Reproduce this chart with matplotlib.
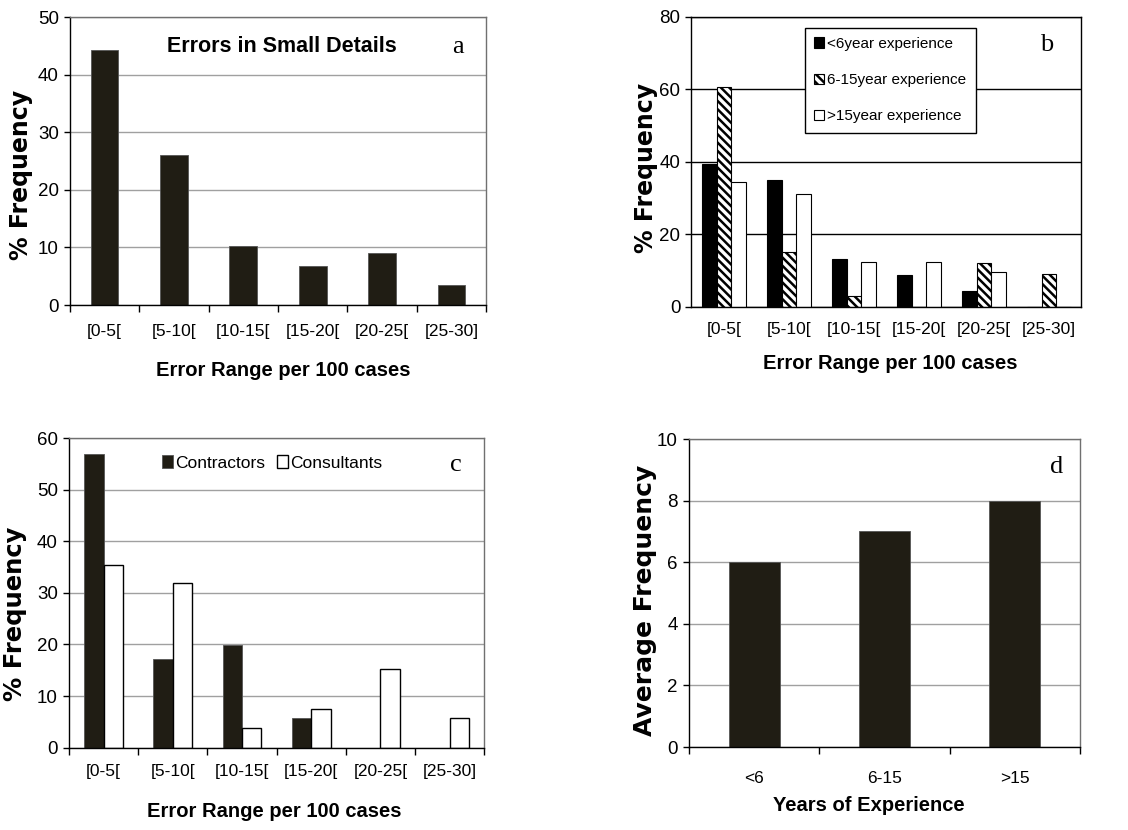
import matplotlib
matplotlib.use("Agg")
import matplotlib.pyplot as plt
import numpy as np

# data
ranges = ["[0-5[", "[5-10[", "[10-15[", "[15-20[", "[20-25[", "[25-30]"]
small_details = [44.3, 26.0, 10.2, 6.8, 9.1, 3.4]

exp_lt6 = [39.4, 35.0, 13.2, 8.7, 4.4, 0.0]
exp_6_15 = [60.5, 15.0, 2.9, 0.0, 12.0, 9.1]
exp_gt15 = [34.4, 31.2, 12.4, 12.4, 9.6, 0.0]
exp_labels = ["<6year experience", "6-15year experience", ">15year experience"]

contractors = [56.9, 17.2, 19.8, 5.7, 0.0, 0.0]
consultants = [35.4, 32.0, 3.8, 7.5, 15.3, 5.7]

years = ["<6", "6-15", ">15"]
avg_freq = [6, 7, 8]

SANS = "Liberation Sans"
BOLDY = "DejaVu Sans"
SERIF = "Liberation Serif"
DARK = "#201d14"

plt.rcParams["hatch.linewidth"] = 1.8

fig = plt.figure(figsize=(11.28, 8.30), dpi=100)


def style(ax, ymax, step, pad, gridcolor="#a0a0a0", framecolor="#707070", xticks=True):
    n = len(ax.get_xticks())
    ax.set_ylim(0, ymax)
    ax.set_yticks(np.arange(0, ymax + 1, step))
    ax.set_xlim(-0.5, n - 0.5)
    ax.yaxis.grid(True, color=gridcolor, lw=1.0)
    ax.set_axisbelow(True)
    for s in ["top", "right"]:
        ax.spines[s].set_color(framecolor)
        ax.spines[s].set_linewidth(1.0)
    for s in ["left", "bottom"]:
        ax.spines[s].set_color("black")
        ax.spines[s].set_linewidth(1.0)
    ax.tick_params(axis="x", which="major", length=0, pad=pad)
    ax.tick_params(axis="y", direction="out", length=4, width=1, pad=4)
    if xticks:
        ax.set_xticks(np.arange(-0.5, n, 1.0), minor=True)
        ax.tick_params(axis="x", which="minor", direction="out", length=5, width=1)
    for lab in ax.get_xticklabels():
        lab.set_family(SANS)
        lab.set_fontsize(12.5)
    for lab in ax.get_yticklabels():
        lab.set_family(SANS)
        lab.set_fontsize(13.5)


def labels(ax, ylab, ysize, ycoords, xlab, xcoords):
    ax.set_ylabel(ylab, fontsize=ysize, fontweight="bold", family=BOLDY)
    ax.yaxis.set_label_coords(*ycoords)
    ax.set_xlabel(xlab, fontsize=14.5, fontweight="bold", family=SANS)
    ax.xaxis.set_label_coords(*xcoords)


# panel a
ax = fig.add_axes([0.062, 0.6325, 0.369, 0.347])
x = np.arange(len(ranges))
ax.bar(x, small_details, width=0.4, color=DARK, edgecolor="#555555", lw=0.6)
ax.set_xticks(x)
ax.set_xticklabels(ranges)
style(ax, 50, 10, pad=14)
labels(ax, "% Frequency", 17, (-0.089, 0.45), "Error Range per 100 cases", (0.513, -0.195))
ax.text(0.508, 0.896, "Errors in Small Details", transform=ax.transAxes, ha="center",
        va="center", fontsize=15.5, fontweight="bold", family=SANS)
ax.text(0.933, 0.896, "a", transform=ax.transAxes, ha="center", va="center",
        fontsize=19, family=SERIF)

# panel b
ax = fig.add_axes([0.613, 0.6305, 0.3457, 0.3495])
w = 0.225
ax.bar(x - w, exp_lt6, width=w, color="black", edgecolor="black", lw=0.8, label=exp_labels[0])
ax.bar(x, exp_6_15, width=w, color="white", edgecolor="black", hatch="\\" * 4, lw=0.8,
       label=exp_labels[1])
ax.bar(x + w, exp_gt15, width=w, color="white", edgecolor="black", lw=0.8, label=exp_labels[2])
ax.set_xticks(x)
ax.set_xticklabels(ranges)
style(ax, 80, 20, pad=11, gridcolor="black", framecolor="black", xticks=False)
labels(ax, "% Frequency", 17, (-0.0856, 0.48), "Error Range per 100 cases", (0.511, -0.162))
ax.text(0.911, 0.902, "b", transform=ax.transAxes, ha="center", va="center",
        fontsize=19, family=SERIF)
leg = ax.legend(loc="upper left", bbox_to_anchor=(0.29, 0.961), prop={"family": SANS, "size": 11},
                handlelength=0.7, handleheight=0.7, handletextpad=0.2, labelspacing=1.45,
                borderpad=0.6, borderaxespad=0, fancybox=False, edgecolor="black", framealpha=1)
leg.get_frame().set_linewidth(1.0)

# panel c
ax = fig.add_axes([0.0612, 0.0992, 0.368, 0.373])
w = 0.28
ax.bar(x - w / 2, contractors, width=w, color=DARK, edgecolor="#555555", lw=0.6, label="Contractors")
ax.bar(x + w / 2, consultants, width=w, color="white", edgecolor="black", lw=1.0, label="Consultants")
ax.set_xticks(x)
ax.set_xticklabels(ranges)
style(ax, 60, 10, pad=12)
labels(ax, "% Frequency", 17.5, (-0.101, 0.433), "Error Range per 100 cases", (0.494, -0.175))
ax.text(0.932, 0.913, "c", transform=ax.transAxes, ha="center", va="center",
        fontsize=19, family=SERIF)
ax.legend(loc="center", bbox_to_anchor=(0.49, 0.92), ncol=2, frameon=False,
          prop={"family": SANS, "size": 12.5}, handlelength=0.6, handleheight=0.8,
          handletextpad=0.15, columnspacing=0.7)

# panel d
ax = fig.add_axes([0.6108, 0.1, 0.3466, 0.371])
xd = np.arange(len(years))
ax.bar(xd, avg_freq, width=0.39, color=DARK, edgecolor="#555555", lw=0.6)
ax.set_xticks(xd)
ax.set_xticklabels(years)
style(ax, 10, 2, pad=17)
labels(ax, "Average Frequency", 18, (-0.0826, 0.477), "Years of Experience", (0.46, -0.158))
ax.text(0.94, 0.91, "d", transform=ax.transAxes, ha="center", va="center",
        fontsize=19, family=SERIF)

fig.savefig("out.png", dpi=100)
